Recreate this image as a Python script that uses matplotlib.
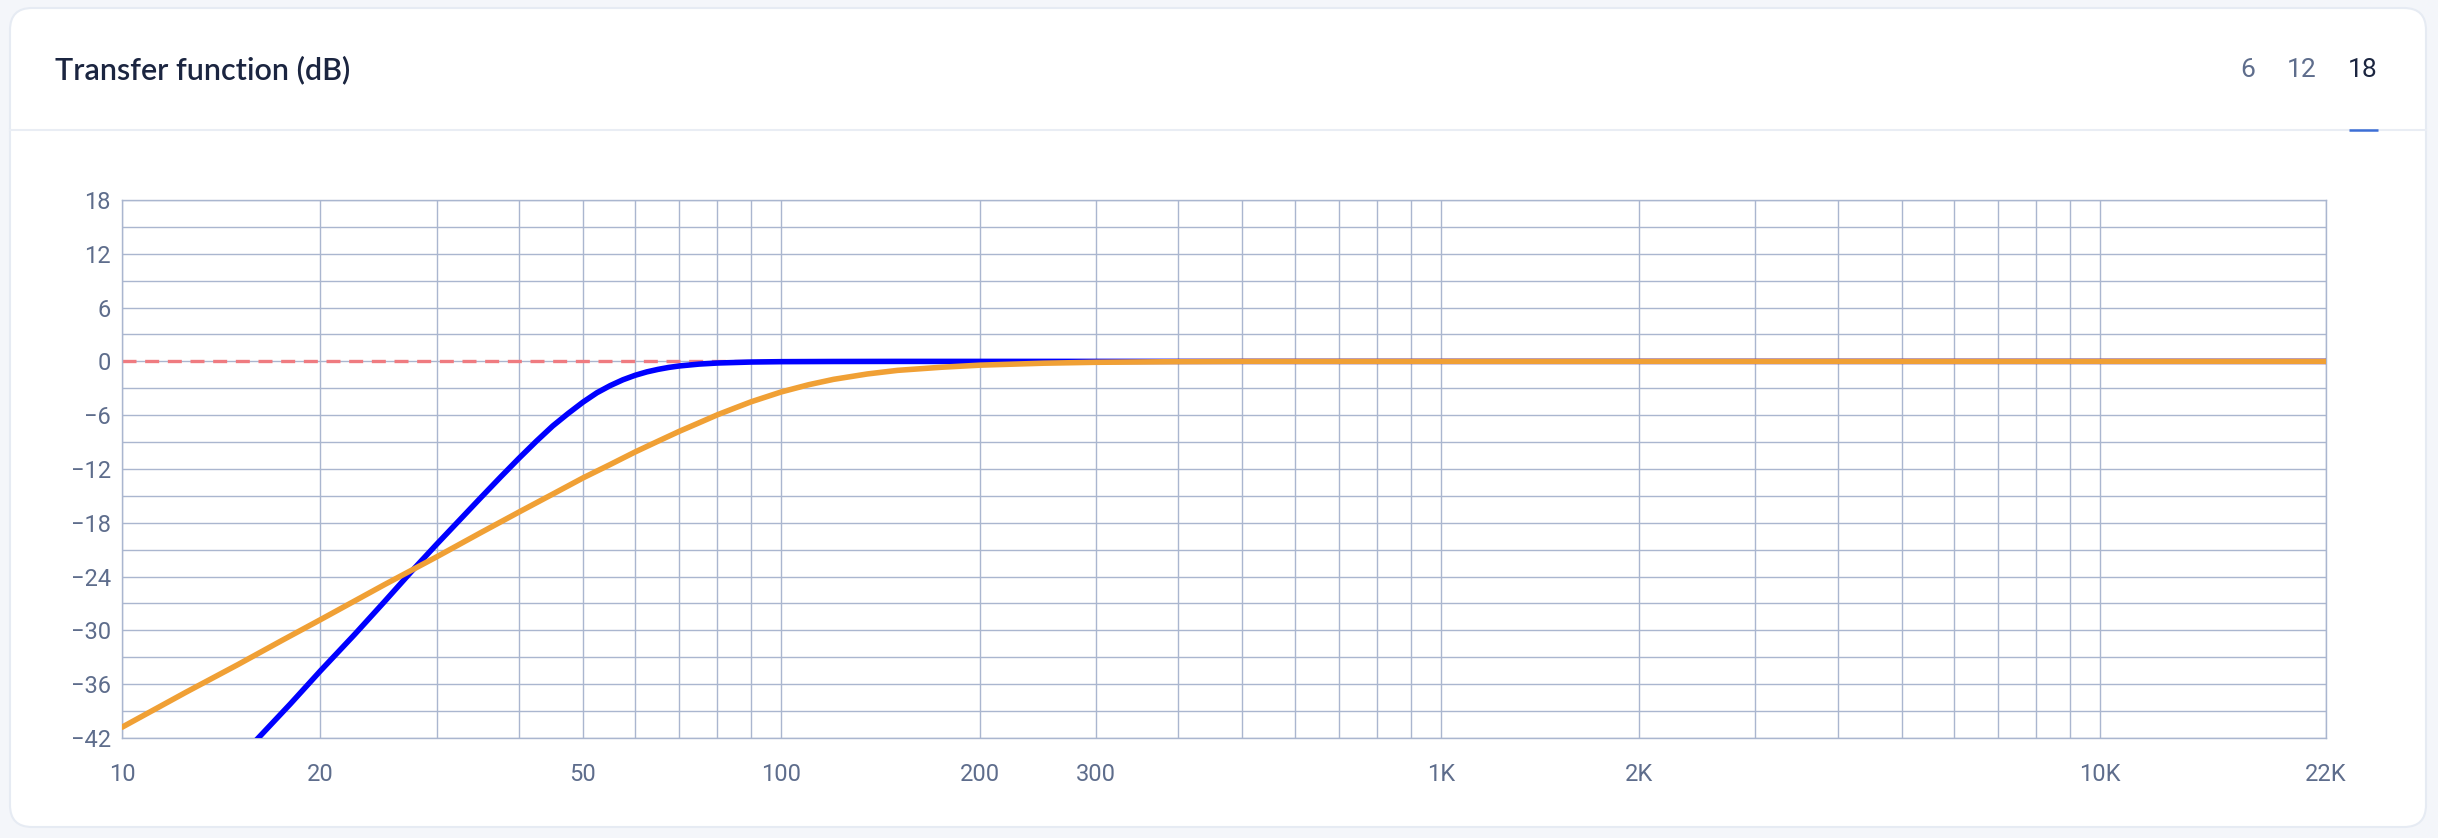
import matplotlib.pyplot as plt
from matplotlib.patches import FancyBboxPatch
from matplotlib.ticker import FixedLocator, NullFormatter

freq_blue = [15.6, 16, 18, 20, 22.5, 25, 27.5, 30, 32.5, 35, 37.5, 40, 42.5, 45, 47.5, 50,
             52.5, 55, 57.5, 60, 62.5, 65, 67.5, 70, 75, 80, 90, 100, 120, 150, 22000]
db_blue = [-42.8, -42.2, -38.2, -34.5, -30.5, -26.8, -23.4, -20.4, -17.7, -15.2, -12.9, -10.8,
           -8.9, -7.2, -5.8, -4.55, -3.5, -2.7, -2.05, -1.55, -1.17, -0.89, -0.67, -0.51, -0.3,
           -0.18, -0.07, -0.03, -0.01, 0, 0]

freq_orange = [10, 12.5, 15, 17.5, 20, 25, 30, 35, 40, 45, 50, 55, 60, 65, 70, 75, 80, 85, 90,
               100, 110, 120, 135, 150, 175, 200, 250, 300, 400, 500, 22000]
db_orange = [-40.8, -36.9, -33.8, -31.1, -28.8, -24.9, -21.8, -19.1, -16.8, -14.8, -13.0, -11.5,
             -10.1, -8.9, -7.8, -6.85, -5.95, -5.2, -4.5, -3.4, -2.6, -2.0, -1.4, -1.0, -0.65,
             -0.42, -0.2, -0.1, -0.03, 0, 0]

reference_db = 0

x_ticks = [10, 20, 50, 100, 200, 300, 1000, 2000, 10000, 22000]
x_tick_labels = ["10", "20", "50", "100", "200", "300", "1K", "2K", "10K", "22K"]
x_grid = [f * d for d in (10, 100, 1000) for f in range(1, 10)] + [10000]
y_ticks = list(range(-42, 19, 6))
y_grid = list(range(-39, 18, 6))

tab_labels = ["6", "12", "18"]
active_tab = "18"

W, H = 2438, 838
GRID = "#aab6cf"
LABEL = "#5e6d8c"
DARK = "#1b2540"

fig = plt.figure(figsize=(W / 100, H / 100), dpi=100)
fig.patch.set_facecolor("#f4f6fa")

# card + header drawn in pixel coordinates
bg = fig.add_axes([0, 0, 1, 1])
bg.set_xlim(0, W)
bg.set_ylim(H, 0)
bg.axis("off")
bg.add_patch(FancyBboxPatch((10, 8), 2416, 819, boxstyle="round,pad=0,rounding_size=22",
                            fc="white", ec="#e6ebf3", lw=1.5))
bg.plot([10, 2426], [130, 130], color="#e9edf4", lw=1.5)
bg.text(55, 70, "Transfer function (dB)", fontsize=22, color=DARK, family="Lato",
        weight="semibold", va="center", ha="left")

for label, x in zip(tab_labels, [2248, 2302, 2363]):
    bg.text(x, 70, label, fontsize=19, family="Roboto", va="center", ha="center",
            color=DARK if label == active_tab else LABEL)
bg.plot([2349, 2378], [130, 130], color="#3d6fd6", lw=1.8, solid_capstyle="butt")

ax = fig.add_axes([122 / W, 1 - 738 / H, (2326 - 122) / W, (738 - 200) / H])
ax.set_xscale("log")
ax.set_xlim(10, 22000)
ax.set_ylim(-42, 18)

ax.xaxis.set_major_locator(FixedLocator(x_ticks))
ax.set_xticklabels(x_tick_labels)
ax.xaxis.set_minor_locator(FixedLocator([v for v in x_grid if v not in x_ticks]))
ax.xaxis.set_minor_formatter(NullFormatter())
ax.set_yticks(y_ticks)
ax.set_yticklabels([str(v).replace("-", "\u2212") for v in y_ticks])
ax.yaxis.set_minor_locator(FixedLocator(y_grid))

ax.grid(True, which="both", color=GRID, lw=1.0)
ax.set_axisbelow(True)
ax.tick_params(which="both", length=0)
ax.tick_params(axis="x", pad=18, labelsize=17, labelcolor=LABEL)
ax.tick_params(axis="y", pad=8, labelsize=17, labelcolor=LABEL)
for lab in ax.get_xticklabels() + ax.get_yticklabels():
    lab.set_family("Roboto")
for sp in ax.spines.values():
    sp.set_color(GRID)
    sp.set_linewidth(1.0)

ax.axhline(reference_db, color="#ef7b80", lw=2.4, dashes=(4.2, 2.6), zorder=2)
ax.plot(freq_blue, db_blue, color="#0000ff", lw=4.0, zorder=3, solid_capstyle="round")
ax.plot(freq_orange, db_orange, color="#f0a035", lw=4.0, zorder=4, solid_capstyle="round")

fig.savefig("out.png", dpi=100, facecolor=fig.get_facecolor())
